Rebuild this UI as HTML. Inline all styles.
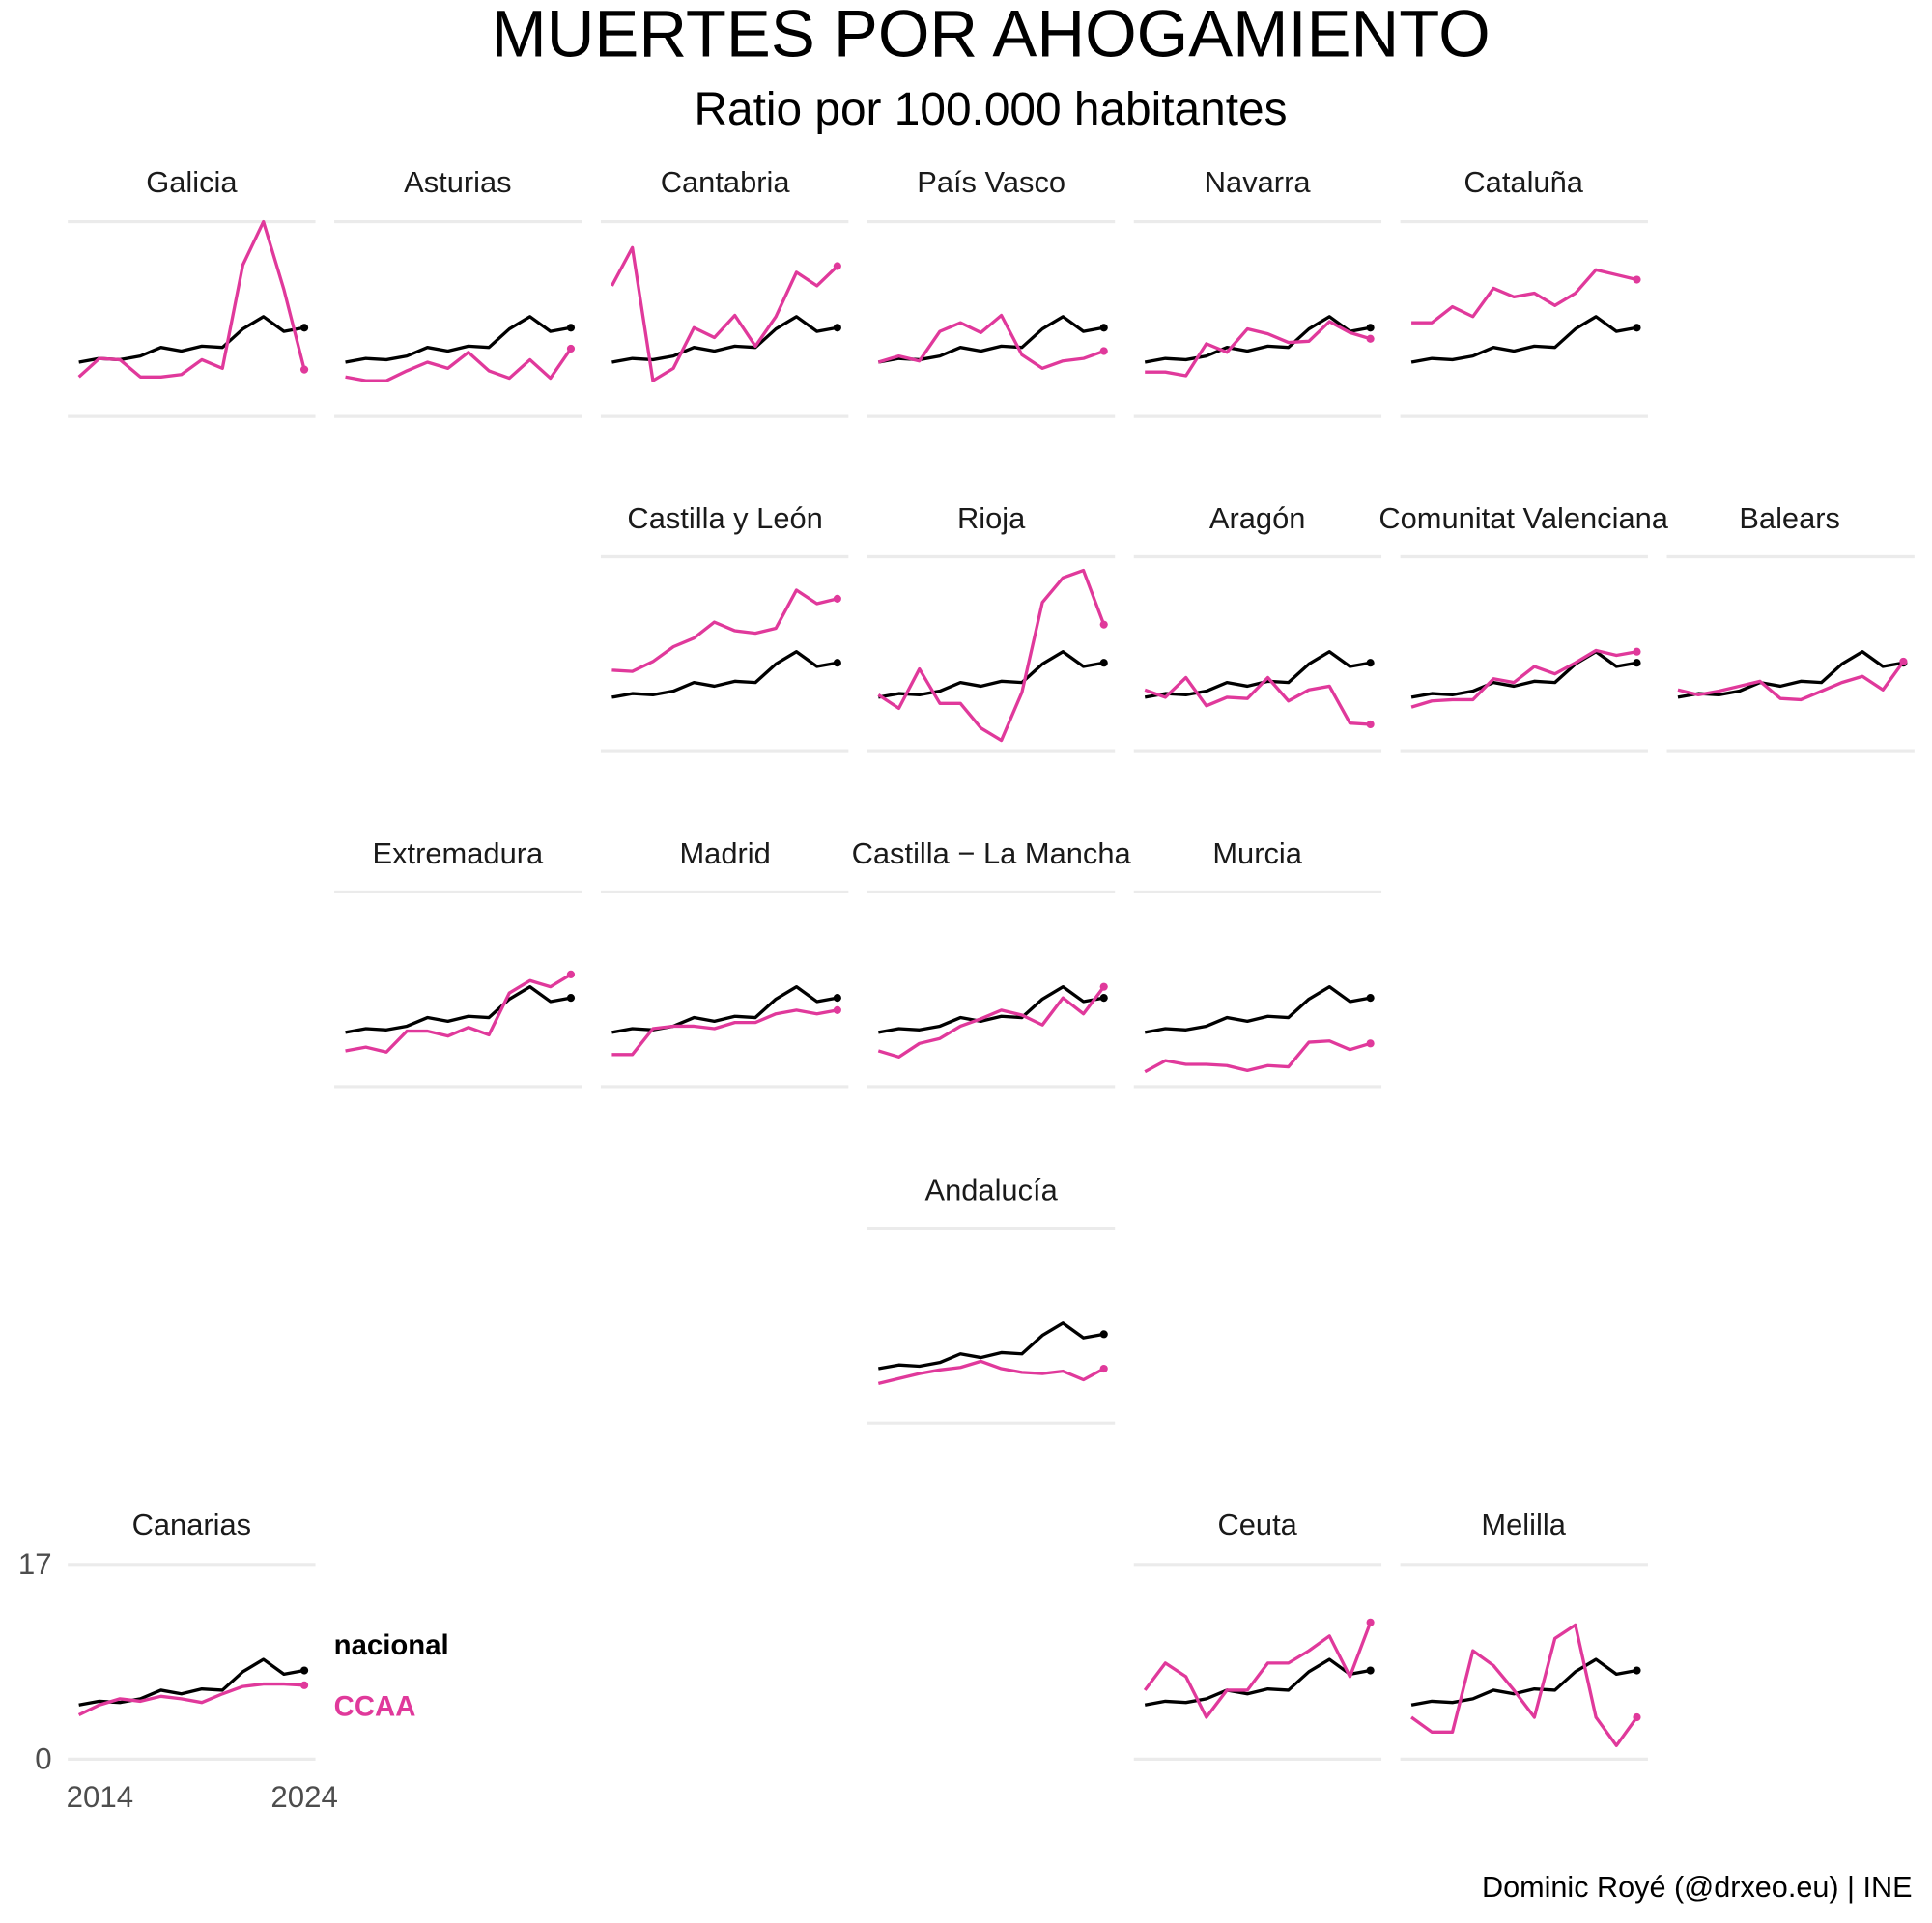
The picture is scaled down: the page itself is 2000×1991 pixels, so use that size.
<!DOCTYPE html>
<html><head><meta charset="utf-8"><style>
html,body{margin:0;padding:0;background:#fff;}
svg{display:block;font-family:"Liberation Sans",sans-serif;}
</style></head><body>
<svg id="c" width="2000" height="1991" viewBox="0 0 1568 1561" xmlns="http://www.w3.org/2000/svg">
<rect width="1568" height="1561" fill="#fff"/>
<text x="804" y="46" font-size="54" text-anchor="middle" fill="#000">MUERTES POR AHOGAMIENTO</text>
<text x="804" y="101" font-size="37.5" text-anchor="middle" fill="#000">Ratio por 100.000 habitantes</text>
<g font-size="24.2" text-anchor="middle" fill="#1a1a1a">
<text x="155.5" y="156">Galicia</text>
<text x="371.5" y="156">Asturias</text>
<text x="588.5" y="156">Cantabria</text>
<text x="804.5" y="156">País Vasco</text>
<text x="1020.5" y="156">Navarra</text>
<text x="1236.5" y="156">Cataluña</text>
<text x="588.5" y="429">Castilla y León</text>
<text x="804.5" y="429">Rioja</text>
<text x="1020.5" y="429">Aragón</text>
<text x="1236.5" y="429">Comunitat Valenciana</text>
<text x="1452.5" y="429">Balears</text>
<text x="371.5" y="701">Extremadura</text>
<text x="588.5" y="701">Madrid</text>
<text x="804.5" y="701">Castilla − La Mancha</text>
<text x="1020.5" y="701">Murcia</text>
<text x="804.5" y="974">Andalucía</text>
<text x="155.5" y="1246">Canarias</text>
<text x="1020.5" y="1246">Ceuta</text>
<text x="1236.5" y="1246">Melilla</text>
</g>
<g font-size="24.5" fill="#4d4d4d">
<text x="42" y="1278" text-anchor="end">17</text>
<text x="42" y="1436" text-anchor="end">0</text>
<text x="81" y="1467" text-anchor="middle">2014</text>
<text x="247" y="1467" text-anchor="middle">2024</text>
</g>
<text x="271" y="1343" font-size="23" font-weight="bold" fill="#000">nacional</text>
<text x="271" y="1393" font-size="23" font-weight="bold" fill="#e0399b">CCAA</text>
<text x="1552" y="1540" font-size="24" text-anchor="end" fill="#000">Dominic Royé (@drxeo.eu) | INE</text>
<g id="p"></g>
</svg>
<script>
var nat=[114,111,112,109,102,105,101,102,87,77,89,86];
var colX=function(c){return 55+c*216.3;};
var rowY=[180,452,724,997,1270];
var P=[
[0,0,[126,111,112,126,126,124,112,119,35,0,55,120]],
[0,1,[126,129,129,121,114,119,106,121,127,112,127,103]],
[0,2,[52,21,129,119,86,94,76,101,77,41,52,36]],
[0,3,[114,109,113,89,82,90,76,108,119,113,111,105]],
[0,4,[122,122,125,99,106,87,91,98,97,81,90,95]],
[0,5,[82,82,69,77,54,61,58,68,58,39,43,47]],
[1,2,[92,93,85,73,66,53,60,62,58,27,38,34]],
[1,3,[112,123,91,119,119,139,149,110,37,17,11,55]],
[1,4,[108,114,98,121,114,115,98,117,108,105,135,136]],
[1,5,[122,117,116,116,99,102,89,95,86,76,80,77]],
[1,6,[108,112,109,105,101,115,116,109,102,97,108,85]],
[2,1,[129,126,130,113,113,117,110,116,82,72,77,67]],
[2,2,[132,132,111,109,109,111,106,106,99,96,99,96]],
[2,3,[129,134,123,119,109,103,96,100,108,86,99,77]],
[2,4,[146,137,140,140,141,145,141,142,122,121,128,123]],
[3,3,[126,122,118,115,113,108,114,117,118,116,123,114]],
[4,0,[122,114,109,111,107,109,112,105,99,97,97,98]],
[4,4,[102,80,91,124,102,102,80,80,70,58,91,47]],
[4,5,[124,136,136,70,82,102,124,60,49,124,147,124]]
];
var g=document.getElementById('p'),h='';
function line(x0,y0,arr,col){
  var pts=arr.map(function(v,i){return (x0+9+i*16.64).toFixed(1)+','+(y0+v);}).join(' ');
  var lx=x0+9+11*16.64, ly=y0+arr[11];
  return '<polyline points="'+pts+'" fill="none" stroke="'+col+'" stroke-width="2.6" stroke-linejoin="round"/>'+
  '<circle cx="'+lx.toFixed(1)+'" cy="'+ly+'" r="3.2" fill="'+col+'"/>';
}
P.forEach(function(p){
  var x0=colX(p[1]),y0=rowY[p[0]];
  h+='<line x1="'+x0+'" x2="'+(x0+201)+'" y1="'+y0+'" y2="'+y0+'" stroke="#ebebeb" stroke-width="2.5"/>';
  h+='<line x1="'+x0+'" x2="'+(x0+201)+'" y1="'+(y0+158)+'" y2="'+(y0+158)+'" stroke="#ebebeb" stroke-width="2.5"/>';
  h+=line(x0,y0,nat,'#000');
  h+=line(x0,y0,p[2],'#e0399b');
});
g.innerHTML=h;
</script>
</body></html>
